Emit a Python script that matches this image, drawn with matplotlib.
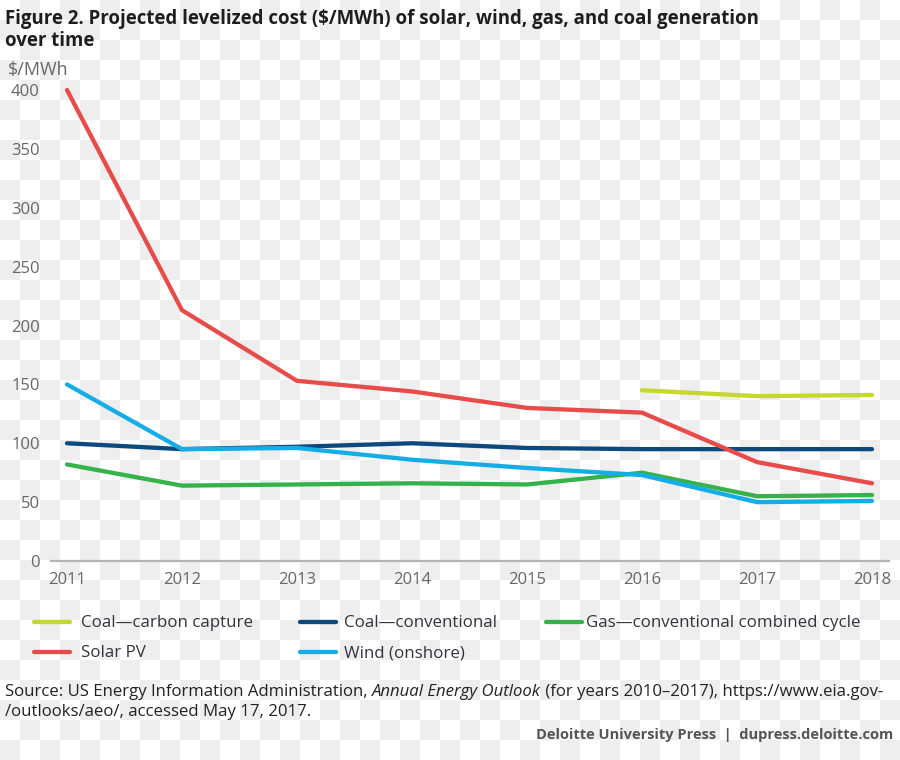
import numpy as np
import matplotlib
matplotlib.use('Agg')
import matplotlib.pyplot as plt
from matplotlib.lines import Line2D

years = [2011, 2012, 2013, 2014, 2015, 2016, 2017, 2018]
ccs_years = [2016, 2017, 2018]

coal_ccs = [145, 140, 141]
coal_conv = [100, 95, 97, 100, 96, 95, 95, 95]
gas_cc = [82, 64, 65, 66, 65, 75, 55, 56]
solar_pv = [400, 213, 153, 144, 130, 126, 84, 66]
wind = [150, 95, 96, 86, 79, 73, 50, 51]

series = [
    ('Coal\u2014carbon capture', ccs_years, coal_ccs, '#c5d82d'),
    ('Coal\u2014conventional', years, coal_conv, '#0c4a7e'),
    ('Gas\u2014conventional combined cycle', years, gas_cc, '#35b34a'),
    ('Solar PV', years, solar_pv, '#e84c4a'),
    ('Wind (onshore)', years, wind, '#14ade6'),
]
y_ticks = [0, 50, 100, 150, 200, 250, 300, 350, 400]

plt.rcParams['font.family'] = ['Open Sans', 'DejaVu Sans']

W, H = 900, 760
fig = plt.figure(figsize=(W / 100, H / 100), dpi=100, facecolor='white')

# checkerboard backdrop baked into the reference picture
yy, xx = np.mgrid[0:H, 0:W]
odd = ((xx // 20 + yy // 20) % 2) == 1
bg = np.ones((H, W, 3))
bg[odd] = 0.935
fig.figimage(bg, 0, 0, zorder=0)

ax = fig.add_axes([51 / W, 1 - 561 / H, 838 / W, 471 / H])
ax.set_zorder(2)
ax.set_facecolor('none')

for name, xs, ys, col in series:
    ax.plot(xs, ys, color=col, lw=3.1, solid_capstyle='round',
            solid_joinstyle='round', clip_on=False, zorder=3)

ax.set_xlim(2011 - 16 / 115, 2018 + 17 / 115)
ax.set_ylim(0, 400)
ax.set_yticks(y_ticks)
ax.set_xticks(years)
ax.set_xticklabels([str(y) for y in years])
for s in ['top', 'right', 'left']:
    ax.spines[s].set_visible(False)
ax.spines['bottom'].set_color('#b5b5b5')
ax.spines['bottom'].set_linewidth(1.6)
ax.tick_params(axis='both', length=0, labelsize=12, labelcolor='#666666')
ax.tick_params(axis='y', pad=8)
ax.tick_params(axis='x', pad=8)

def fx(px):
    return px / W

def fy(py):
    return 1 - py / H

fig.text(fx(5), fy(19), 'Figure 2. Projected levelized cost ($/MWh) of solar, wind, gas, and coal generation',
         fontsize=13.45, fontweight='bold', color='#1e1e1e', va='center', ha='left', zorder=5)
fig.text(fx(5), fy(41), 'over time', fontsize=13.45, fontweight='bold', color='#1e1e1e',
         va='center', ha='left', zorder=5)
fig.text(fx(8), fy(70), '$/MWh', fontsize=13, color='#666666', va='center', ha='left', zorder=5)

# legend, laid out by hand to match the three-column arrangement
leg_handles = [(34, 623), (300, 623), (546, 623), (34, 653), (300, 653)]
leg_text_x = [81, 344, 586, 81, 344]
for (name, xs, ys, col), (lx, ly), tx in zip(series, leg_handles, leg_text_x):
    fig.add_artist(Line2D([fx(lx), fx(lx + 36)], [fy(ly - 1), fy(ly - 1)], color=col, lw=3.1,
                          solid_capstyle='round', transform=fig.transFigure, zorder=5))
    fig.text(fx(tx), fy(ly), name, fontsize=12.2, color='#33333d', va='center', ha='left', zorder=5)

fs = 12.05
src1 = fig.text(fx(5), fy(692), 'Source: US Energy Information Administration, ',
                fontsize=fs, color='#222222', va='center', ha='left', zorder=5)
fig.canvas.draw()
r = fig.canvas.get_renderer()
bb = src1.get_window_extent(r)
src2 = fig.text(bb.x1 / W, fy(692), 'Annual Energy Outlook', fontsize=fs, style='italic',
                color='#222222', va='center', ha='left', zorder=5)
bb2 = src2.get_window_extent(r)
fig.text(bb2.x1 / W, fy(692), ' (for years 2010\u20132017), https://www.eia.gov-',
         fontsize=fs, color='#222222', va='center', ha='left', zorder=5)
fig.text(fx(5), fy(712), '/outlooks/aeo/, accessed May 17, 2017.', fontsize=fs,
         color='#222222', va='center', ha='left', zorder=5)
fig.text(fx(893), fy(735), 'Deloitte University Press  |  dupress.deloitte.com', fontsize=10.5,
         fontweight='bold', color='#555555', va='center', ha='right', zorder=5)

fig.savefig('out.png', dpi=100, facecolor='white')
